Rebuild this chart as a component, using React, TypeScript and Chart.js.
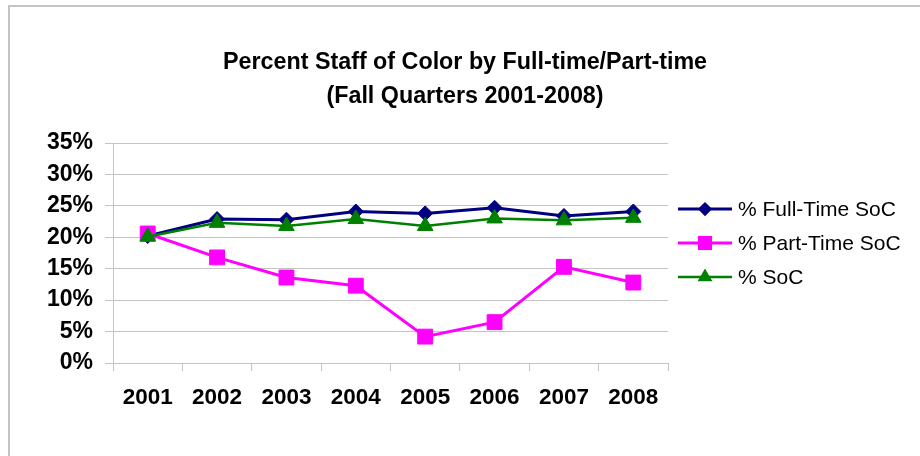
import React, { useEffect, useRef } from 'react';
import { Chart, registerables } from 'chart.js';

Chart.register(...registerables);

const years = ['2001', '2002', '2003', '2004', '2005', '2006', '2007', '2008'];
const fullTimeSoC = [20.2, 22.9, 22.8, 24.1, 23.8, 24.7, 23.4, 24.1];
const partTimeSoC = [20.6, 16.8, 13.6, 12.3, 4.2, 6.5, 15.3, 12.8];
const allSoC = [20.1, 22.3, 21.8, 22.9, 21.8, 23.0, 22.7, 23.1];
const seriesLabels = ['% Full-Time SoC', '% Part-Time SoC', '% SoC'];
const titleLines = ['Percent Staff of Color by Full-time/Part-time', '(Fall Quarters 2001-2008)'];
const yMin = 0;
const yMax = 35;
const yStep = 5;

const FONT = "'Liberation Sans', Arial, Helvetica, sans-serif";
const GRID = '#c4c4c4';

function drawMarker(ctx: CanvasRenderingContext2D, style: string, x: number, y: number, r: number, color: string) {
  ctx.fillStyle = color;
  ctx.beginPath();
  if (style === 'rectRot') {
    ctx.moveTo(x, y - r);
    ctx.lineTo(x + r, y);
    ctx.lineTo(x, y + r);
    ctx.lineTo(x - r, y);
  } else if (style === 'rect') {
    const s = Math.SQRT2 * r;
    ctx.rect(x - s / 2, y - s / 2, s, s);
  } else {
    ctx.moveTo(x, y - r);
    ctx.lineTo(x + 0.866 * r, y + 0.5 * r);
    ctx.lineTo(x - 0.866 * r, y + 0.5 * r);
  }
  ctx.closePath();
  ctx.fill();
}

const lineLegend = {
  id: 'lineLegend',
  afterDraw(chart: any, _args: any, opts: any) {
    const ctx: CanvasRenderingContext2D = chart.ctx;
    ctx.save();
    chart.data.datasets.forEach((ds: any, i: number) => {
      const y = opts.top + i * opts.spacing;
      ctx.strokeStyle = ds.borderColor;
      ctx.lineWidth = ds.borderWidth;
      ctx.beginPath();
      ctx.moveTo(opts.x, y);
      ctx.lineTo(opts.x + opts.lineLen, y);
      ctx.stroke();
      drawMarker(ctx, ds.pointStyle, opts.x + opts.lineLen / 2, y, ds.pointRadius * 0.95, ds.pointBackgroundColor);
      ctx.fillStyle = '#000';
      ctx.font = opts.font;
      ctx.textBaseline = 'middle';
      ctx.textAlign = 'left';
      ctx.fillText(ds.label, opts.x + opts.lineLen + opts.gap, y + 1);
    });
    ctx.restore();
  },
};

export default function App() {
  const ref = useRef<HTMLCanvasElement | null>(null);

  useEffect(() => {
    if (!ref.current) return;
    const chart = new Chart(ref.current, {
      type: 'line',
      data: {
        labels: years,
        datasets: [
          {
            label: seriesLabels[0],
            data: fullTimeSoC,
            borderColor: '#000080',
            backgroundColor: '#000080',
            pointBackgroundColor: '#000080',
            pointBorderColor: '#000080',
            borderWidth: 3,
            pointStyle: 'rectRot',
            pointRadius: 7.5,
            pointBorderWidth: 1,
            tension: 0,
            order: 2,
          },
          {
            label: seriesLabels[1],
            data: partTimeSoC,
            borderColor: '#FF00FF',
            backgroundColor: '#FF00FF',
            pointBackgroundColor: '#FF00FF',
            pointBorderColor: '#FF00FF',
            borderWidth: 3,
            pointStyle: 'rect',
            pointRadius: 10.5,
            pointBorderWidth: 1,
            tension: 0,
            order: 1,
          },
          {
            label: seriesLabels[2],
            data: allSoC,
            borderColor: '#008000',
            backgroundColor: '#008000',
            pointBackgroundColor: '#008000',
            pointBorderColor: '#008000',
            borderWidth: 2.5,
            pointStyle: 'triangle',
            pointRadius: 9,
            pointBorderWidth: 1,
            tension: 0,
            order: 0,
          },
        ],
      },
      options: {
        responsive: false,
        animation: false,
        devicePixelRatio: 1,
        layout: { padding: 0 },
        plugins: {
          legend: { display: false },
          tooltip: { enabled: false },
          title: {
            display: true,
            text: titleLines,
            color: '#000',
            font: { family: FONT, size: 23.3, weight: 'bold', lineHeight: 34 / 23.3 },
            padding: { top: 39, bottom: 29 },
          },
          lineLegend: {
            x: 668,
            top: 202,
            spacing: 34,
            lineLen: 54,
            gap: 6,
            font: `21px ${FONT}`,
          },
        } as any,
        scales: {
          x: {
            offset: true,
            grid: {
              offset: true,
              drawOnChartArea: false,
              drawTicks: true,
              tickLength: 8,
              color: GRID,
            },
            border: { display: true, color: GRID },
            ticks: {
              color: '#000',
              padding: 13,
              maxRotation: 0,
              font: { family: FONT, size: 22.5, weight: 'bold' },
            },
            afterFit: (scale: any) => {
              scale.height = 93;
            },
          },
          y: {
            min: yMin,
            max: yMax,
            grid: { color: GRID, tickLength: 8, drawTicks: true },
            border: { display: true, color: GRID },
            ticks: {
              stepSize: yStep,
              color: '#000',
              padding: 12,
              font: { family: FONT, size: 23, weight: 'bold' },
              callback: (v: any) => `${v}%`,
            },
            afterFit: (scale: any) => {
              scale.width = 103;
            },
          },
          legendSpace: {
            type: 'linear',
            position: 'right',
            display: true,
            grid: { display: false, drawTicks: false },
            border: { display: false },
            ticks: { display: false },
            afterFit: (scale: any) => {
              scale.width = 252;
            },
          },
        } as any,
      },
      plugins: [lineLegend],
    });
    return () => chart.destroy();
  }, []);

  return (
    <div
      style={{
        position: 'absolute',
        left: 8,
        top: 5,
        width: 912,
        height: 451,
        boxSizing: 'border-box',
        borderTop: '2px solid #c4c4c4',
        borderLeft: '2px solid #c4c4c4',
        background: '#fff',
        overflow: 'hidden',
      }}
    >
      <canvas ref={ref} width={910} height={449} style={{ display: 'block', width: 910, height: 449 }} />
    </div>
  );
}
